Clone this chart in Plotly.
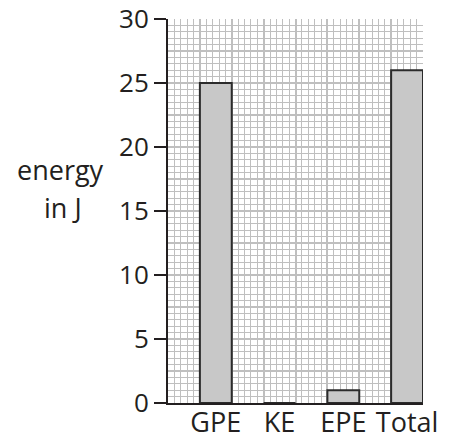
import plotly.graph_objects as go

categories = ["GPE", "KE", "EPE", "Total"]
energy_j = [25, 0, 1, 26]
bar_positions = [1.5, 3.5, 5.5, 7.5]  # grid-cell units on the graph paper
y_ticks = [0, 5, 10, 15, 20, 25, 30]

TXT = "#231f20"
GRID = "#bfbfbf"
FONT = "Open Sans"

fig = go.Figure()
# invisible trace to anchor the graph-paper (grid) subplot
fig.add_trace(go.Scatter(x=[0], y=[0], mode="markers", marker=dict(opacity=0),
                         hoverinfo="skip", showlegend=False, xaxis="x", yaxis="y"))
fig.add_trace(go.Bar(
    x=bar_positions, y=energy_j, width=1,
    marker=dict(color="#c8c8c8", line=dict(color="#2b2b2b", width=2)),
    xaxis="x2", yaxis="y2", showlegend=False,
))

fig.update_layout(
    width=451, height=439,
    margin=dict(l=168, r=28, t=19, b=36, autoexpand=False),
    paper_bgcolor="white", plot_bgcolor="white",
    font=dict(family=FONT, size=26, color=TXT),
    xaxis=dict(range=[0, 8], dtick=1, showticklabels=False, ticks="", automargin=False,
               showgrid=True, gridcolor=GRID, gridwidth=2, zeroline=False,
               minor=dict(dtick=0.2, showgrid=True, gridcolor=GRID, gridwidth=1)),
    yaxis=dict(range=[0, 30], dtick=2.5, showticklabels=False, ticks="", automargin=False,
               showgrid=True, gridcolor=GRID, gridwidth=2, zeroline=False,
               minor=dict(dtick=0.5, showgrid=True, gridcolor=GRID, gridwidth=1)),
    xaxis2=dict(overlaying="x", side="bottom", range=[0, 8], automargin=False,
                tickmode="array", tickvals=bar_positions, ticktext=categories,
                ticks="", showgrid=False, zeroline=False, ticklabelstandoff=-5,
                ticklabeloverflow="allow",
                showline=True, linecolor=TXT, linewidth=2,
                tickfont=dict(family=FONT, size=27, color=TXT)),
    yaxis2=dict(overlaying="y", side="left", range=[0, 30], automargin=False,
                tickmode="array", tickvals=y_ticks, ticklabeloverflow="allow",
                ticks="outside", ticklen=12, tickwidth=2, tickcolor=TXT,
                showgrid=False, zeroline=False,
                showline=True, linecolor=TXT, linewidth=2,
                tickfont=dict(family=FONT, size=26, color=TXT)),
    annotations=[
        dict(text="energy", xref="paper", yref="paper",
             x=-0.42, y=0.607, xanchor="center", yanchor="middle",
             showarrow=False, font=dict(family=FONT, size=27, color=TXT)),
        dict(text="in J", xref="paper", yref="paper",
             x=-0.41, y=0.510, xanchor="center", yanchor="middle",
             showarrow=False, font=dict(family=FONT, size=27, color=TXT)),
    ],
)

fig.write_html("out.html", config={"displayModeBar": False},
               post_script="document.body.style.margin='0';")
